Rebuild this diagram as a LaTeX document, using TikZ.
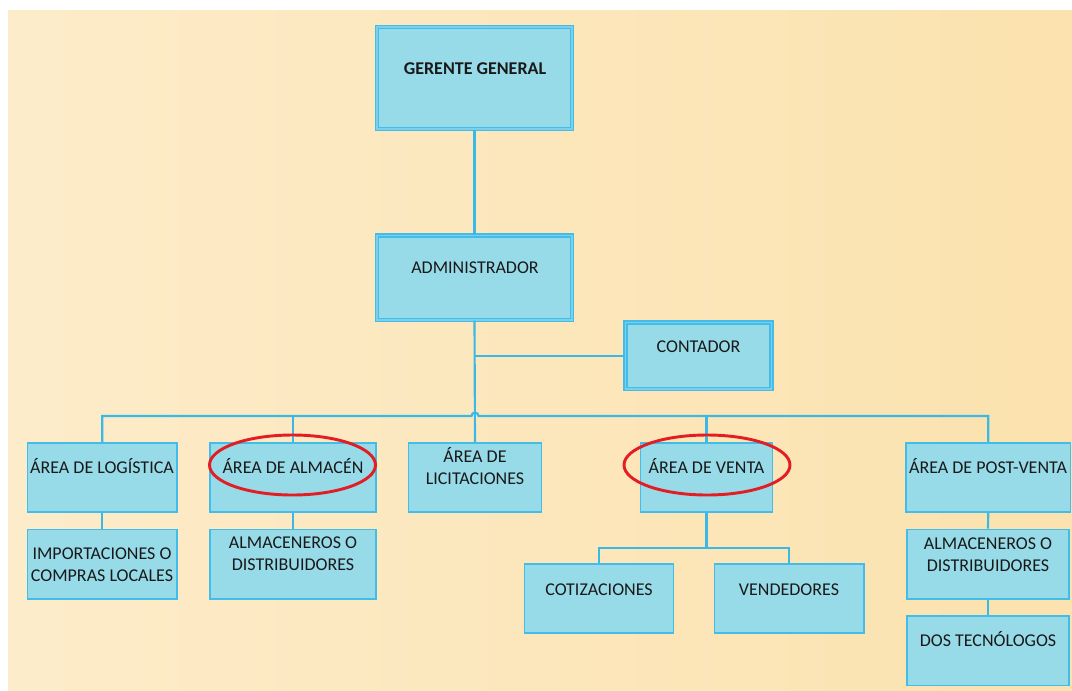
\documentclass[tikz,border=0pt]{standalone}
\usepackage{fontspec}
\setmainfont{Carlito}
\usetikzlibrary{fit,calc}

\definecolor{boxfill}{RGB}{151,219,233}
\definecolor{boxline}{RGB}{66,188,232}
\definecolor{gapfill}{RGB}{125,208,236}
\definecolor{wire}{RGB}{59,185,230}
\definecolor{bgleft}{RGB}{253,236,202}
\definecolor{bgright}{RGB}{251,226,174}
\definecolor{ring}{RGB}{226,30,36}

\begin{document}
\begin{tikzpicture}[x=0.75pt,y=-0.75pt,
  box/.style={draw=boxline,fill=boxfill,line width=1.2pt,inner sep=0pt},
  dbox/.style={draw=boxline,fill=boxfill,line width=0.9pt,double=gapfill,double distance=1.3pt,inner sep=0pt},
  txt/.style={font=\fontsize{13.5}{16.3}\selectfont,text=black!90,inner sep=0pt,anchor=base,align=center},
  conn/.style={draw=wire,line width=1.6pt},
  mark ring/.style={draw=ring,line width=2.2pt}]

% canvas and background
\useasboundingbox (0,0) rectangle (1072,690);
\fill[white] (0,0) rectangle (1072,690);
\shade[left color=bgleft,right color=bgright] (8,10) rectangle (1072,690);

% management boxes
\node[dbox,fit={(376.7,26.7) (572.3,129.3)}] (ger) {};
\node[dbox,fit={(376.7,235.5) (572.3,320)}] (adm) {};
\node[dbox,fit={(625.5,322.5) (771.5,389)}] (cont) {};

% areas
\node[box,fit={(27.5,443) (177,512)}] (logi) {};
\node[box,fit={(210,443) (376,512)}] (alma) {};
\node[box,fit={(408.5,443) (541.5,512)}] (lic) {};
\node[box,fit={(640.5,443) (772.5,512)}] (venta) {};
\node[box,fit={(906,443) (1070.5,512)}] (post) {};

% second level
\node[box,fit={(27.5,529.5) (177,599)}] (impo) {};
\node[box,fit={(210,529.5) (376,599)}] (almb) {};
\node[box,fit={(524.5,564) (673.5,633)}] (coti) {};
\node[box,fit={(714.5,564) (864,633)}] (vend) {};
\node[box,fit={(907,529.5) (1069,599)}] (postb) {};
\node[box,fit={(907,616) (1069,685.5)}] (tec) {};

% connectors
\draw[conn] (ger.south) -- (adm.north);
\draw[conn] (adm.south) -- (lic.north);
\draw[conn] (cont.west) -- (cont.west -| adm.south);
\coordinate (hop) at (475,416);
\draw[conn] (logi.north) |- ($(hop)+(-3.5,0)$)
  arc[start angle=180,end angle=360,radius=3.5] -| (post.north);
\draw[conn] (alma.north) -- (alma.north |- hop);
\draw[conn] (venta.north) -- (venta.north |- hop);
\draw[conn] (logi.south) -- (impo.north);
\draw[conn] (alma.south) -- (almb.north);
\draw[conn] (post.south) -- (postb.north);
\draw[conn] (postb.south) -- (tec.north);
\coordinate (vsplit) at ($(venta.south)+(0,35)$);
\draw[conn] (venta.south) -- (vsplit);
\draw[conn] (coti.north) |- (vsplit) -| (vend.north);

% labels (base anchor = baseline of the last line)
\node[txt,font=\fontsize{13.5}{16.3}\selectfont\bfseries] (tger) at (475,74) {GERENTE GENERAL};
\node[txt] (tadm) at (475,273) {ADMINISTRADOR};
\node[txt] (tcont) at (698.5,352) {CONTADOR};
\node[txt] (tlogi) at (102,473) {ÁREA DE LOGÍSTICA};
\node[txt] (talma) at (293,473) {ÁREA DE ALMACÉN};
\node[txt] (tlic) at (475,484) {ÁREA DE\\LICITACIONES};
\node[txt] (tventa) at (706.5,473) {ÁREA DE VENTA};
\node[txt] (tpost) at (988,473) {ÁREA DE POST-VENTA};
\node[txt] (timpo) at (102,581) {IMPORTACIONES O\\COMPRAS LOCALES};
\node[txt] (talmb) at (293,570) {ALMACENEROS O\\DISTRIBUIDORES};
\node[txt] (tcoti) at (599,595) {COTIZACIONES};
\node[txt] (tvend) at (789,595) {VENDEDORES};
\node[txt] (tpostb) at (988,571) {ALMACENEROS O\\DISTRIBUIDORES};
\node[txt] (ttec) at (988,646) {DOS TECNÓLOGOS};

% highlight rings
\draw[mark ring] (292.5,465) ellipse[x radius=83,y radius=30];
\draw[mark ring] (707,465) ellipse[x radius=83,y radius=30];

\end{tikzpicture}
\end{document}
